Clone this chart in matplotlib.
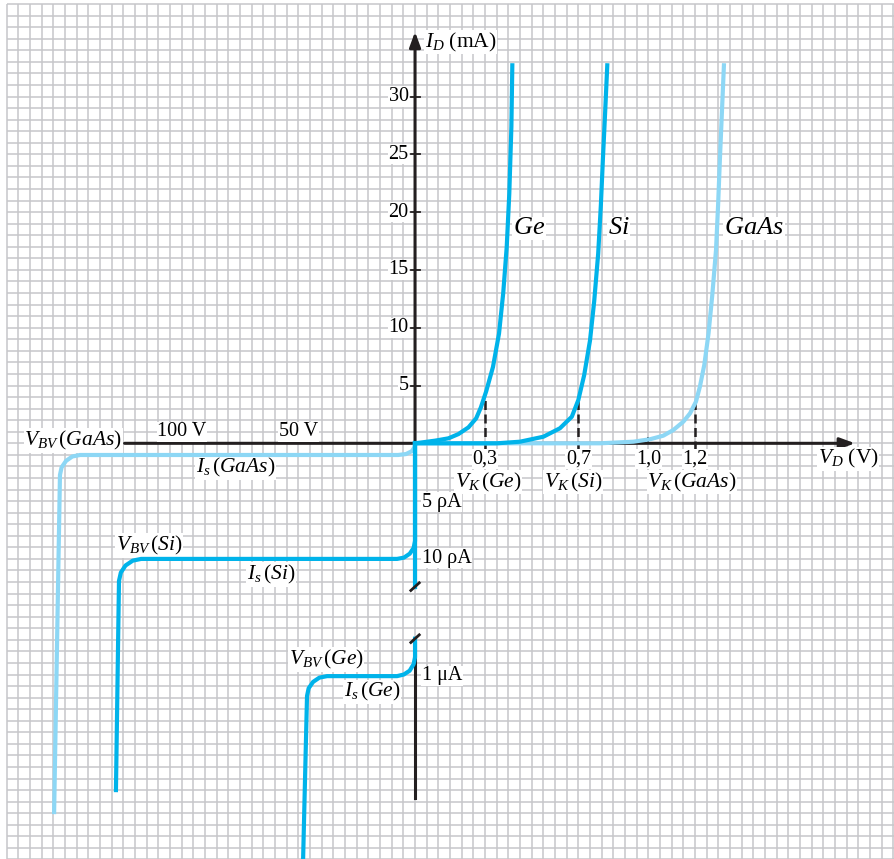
import numpy as np
import matplotlib.pyplot as plt

plt.rcParams['font.family'] = ['Liberation Serif', 'DejaVu Serif']
plt.rcParams['mathtext.fontset'] = 'custom'
plt.rcParams['mathtext.rm'] = 'Liberation Serif'
plt.rcParams['mathtext.it'] = 'Liberation Serif:italic'

# forward region: V_D (V), I_D (mA)
ge_fwd_v = [0.0, 0.086, 0.143, 0.186, 0.229, 0.262, 0.282, 0.305, 0.334, 0.360,
            0.378, 0.393, 0.404, 0.413, 0.417]
ge_fwd_i = [0.0, 0.23, 0.43, 0.80, 1.38, 2.16, 3.1, 4.5, 6.6, 9.5,
            13.0, 17.0, 21.6, 27.4, 32.7]
si_fwd_v = [0.0, 0.35, 0.45, 0.55, 0.621, 0.672, 0.700, 0.725, 0.750, 0.768,
            0.785, 0.7965, 0.8055, 0.815, 0.824]
si_fwd_i = [0.0, 0.0, 0.14, 0.57, 1.30, 2.30, 3.75, 5.9, 8.9, 12.3,
            16.4, 20.6, 24.7, 28.7, 32.7]
gaas_fwd_v = [0.0, 0.793, 0.936, 1.007, 1.064, 1.107, 1.150, 1.179, 1.204, 1.221,
              1.240, 1.258, 1.274, 1.290, 1.299, 1.307, 1.3155, 1.324]
gaas_fwd_i = [0.0, 0.0, 0.14, 0.35, 0.66, 1.15, 1.87, 2.60, 3.6, 4.9,
              6.8, 9.5, 12.8, 16.7, 20.6, 24.7, 28.7, 32.7]

# reverse region: reverse voltage (V), current in chart units of the broken axis
gaas_rev_v = [0.0, 0.2, 1.29, 3.86, 7.3, 143.6, 146.9, 149.6, 151.5, 152.2, 154.7]
gaas_rev_i = [0.0, -0.32, -0.67, -0.93, -1.01, -1.01, -1.14, -1.52, -2.08, -2.74, -31.9]
si_rev_v = [0.0, 0.0, 0.6, 2.27, 4.76, 7.7, 117.4, 121.0, 124.1, 126.1, 126.9, 128.2]
si_rev_i = [0.0, -8.45, -9.05, -9.55, -9.89, -10.0, -10.0, -10.15, -10.57, -11.18, -11.9, -30.0]
ge_rev_top_v = [0.0, 0.0]
ge_rev_top_i = [0.0, -12.4]
ge_rev_v = [0.0, 0.0, 0.6, 2.3, 4.8, 7.7, 37.7, 41.0, 43.7, 45.6, 46.3, 48.1]
ge_rev_i = [-16.9, -18.5, -19.1, -19.67, -20.0, -20.14, -20.14, -20.27, -20.64, -21.19, -21.86, -37.0]

y_ticks = [5, 10, 15, 20, 25, 30]
x_tick_vals = [0.3, 0.7, 1.0, 1.2]
x_tick_labels = ['0,3', '0,7', '1,0', '1,2']
vk_vals = [0.3, 0.7, 1.2]
vk_curr = [4.1, 3.75, 3.6]
vk_labels = [r'$V_K\,(Ge)$', r'$V_K\,(Si)$', r'$V_K\,(GaAs)$']
rev_v_ticks = [100, 50]
rev_v_labels = ['100 V', '50 V']
rev_i_ticks = [-5.1, -9.95, -20.1]
rev_i_labels = ['5 ρA', '10 ρA', '1 μA']
breaks = [-12.4, -16.9]

REV = 0.01  # chart units per reverse volt
C_BRIGHT = '#00b3ea'
C_LIGHT = '#8dd7f5'
C_AX = '#231f20'
C_GRID = '#c6c6ca'
FS = 14.5   # plain labels
FM = 15.5   # labels with subscripts

fig = plt.figure(figsize=(8.94, 8.59), dpi=100)
ax = fig.add_axes([0, 0, 1, 1])
ax.set_xlim(-1.779, 2.053)
ax.set_ylim(-35.96, 38.35)
ax.axis('off')

# graph paper
ax.vlines(np.arange(-35, 42) * 0.05, -37, 38, color=C_GRID, lw=1.1, zorder=0)
ax.hlines(np.arange(-36, 39), -1.75, 2.1, color=C_GRID, lw=1.1, zorder=0)

# axes
arrow = dict(arrowstyle='-|>,head_length=0.6,head_width=0.22', lw=2.2, color=C_AX,
             mutation_scale=15, shrinkA=0, shrinkB=0)
ax.annotate('', xy=(1.886, 0), xytext=(-1.245, 0), arrowprops=arrow, zorder=2)
ax.annotate('', xy=(0, 35.6), xytext=(0, 0), arrowprops=arrow, zorder=2)
ax.plot([0, 0], [0, breaks[0]], color=C_AX, lw=2.2, zorder=2)
ax.plot([0, 0], [-17.3, -30.7], color=C_AX, lw=2.2, zorder=2)
for b in breaks:
    ax.plot([-0.018, 0.018], [b - 0.33, b + 0.33], color=C_AX, lw=2.0, zorder=6)

box = dict(facecolor='white', edgecolor='none', pad=0.5)
for t in y_ticks:
    ax.plot([-0.016, 0.023], [t, t], color=C_AX, lw=1.3, zorder=2)
    ax.text(-0.028, t, str(t), ha='right', va='center', fontsize=FS, zorder=3, bbox=box)
ax.plot([1.0, 1.0], [0, 0.45], color=C_AX, lw=1.3, zorder=2)

# curves
lk = dict(lw=3, zorder=4, solid_joinstyle='round')
ax.plot(-np.array(gaas_rev_v) * REV, gaas_rev_i, color=C_LIGHT, **lk)
ax.plot(gaas_fwd_v, gaas_fwd_i, color=C_LIGHT, **lk)
ax.plot(-np.array(si_rev_v) * REV, si_rev_i, color=C_BRIGHT, **lk)
ax.plot(si_fwd_v, si_fwd_i, color=C_BRIGHT, **lk)
ax.plot(-np.array(ge_rev_top_v) * REV, ge_rev_top_i, color=C_BRIGHT, **lk)
ax.plot(-np.array(ge_rev_v) * REV, ge_rev_i, color=C_BRIGHT, **lk)
ax.plot(ge_fwd_v, ge_fwd_i, color=C_BRIGHT, **lk)

# knee voltages
for v, i in zip(vk_vals, vk_curr):
    ax.plot([v, v], [-0.6, i], color=C_AX, lw=1.8, dashes=(3.6, 1.8), zorder=3)

for v, lab in zip(x_tick_vals, x_tick_labels):
    ax.text(v, -1.35, lab, ha='center', va='center', fontsize=FS, zorder=3, bbox=box)
for lab, xc in zip(vk_labels, [0.313, 0.677, 1.187]):
    ax.text(xc, -3.35, lab, ha='center', va='center', fontsize=FM, zorder=3, bbox=box)
ax.text(1.856, -1.35, r'$V_D$ (V)', ha='center', va='center', fontsize=FM, zorder=3, bbox=box)
ax.text(0.043, 34.7, r'$I_D$ (mA)', ha='left', va='center', fontsize=FM, zorder=3, bbox=box)

for x0, lab in zip([0.42, 0.827, 1.324], [r'$Ge$', r'$Si$', r'$GaAs$']):
    ax.text(x0, 18.6, lab, ha='left', va='center', fontsize=19, zorder=3, bbox=box)

for v, lab in zip(rev_v_ticks, rev_v_labels):
    ax.text(-v * REV, 0.98, lab, ha='center', va='center', fontsize=FS, zorder=3, bbox=box)
for i, lab in zip(rev_i_ticks, rev_i_labels):
    ax.text(0.03, i, lab, ha='left', va='center', fontsize=FS, zorder=3, bbox=box)

ax.text(-1.255, 0.25, r'$V_{BV}\,(GaAs)$', ha='right', va='center', fontsize=FM,
        zorder=3, bbox=box)
ax.text(-0.77, -2.1, r'$I_s\,(GaAs)$', ha='center', va='center', fontsize=FM,
        zorder=3, bbox=box)
ax.text(-1.14, -8.85, r'$V_{BV}\,(Si)$', ha='center', va='center', fontsize=FM,
        zorder=3, bbox=box)
ax.text(-0.617, -11.35, r'$I_s\,(Si)$', ha='center', va='center', fontsize=FM,
        zorder=3, bbox=box)
ax.text(-0.381, -18.7, r'$V_{BV}\,(Ge)$', ha='center', va='center', fontsize=FM,
        zorder=3, bbox=box)
ax.text(-0.184, -21.5, r'$I_s\,(Ge)$', ha='center', va='center', fontsize=FM,
        zorder=3, bbox=box)

fig.savefig('out.png', dpi=100)
